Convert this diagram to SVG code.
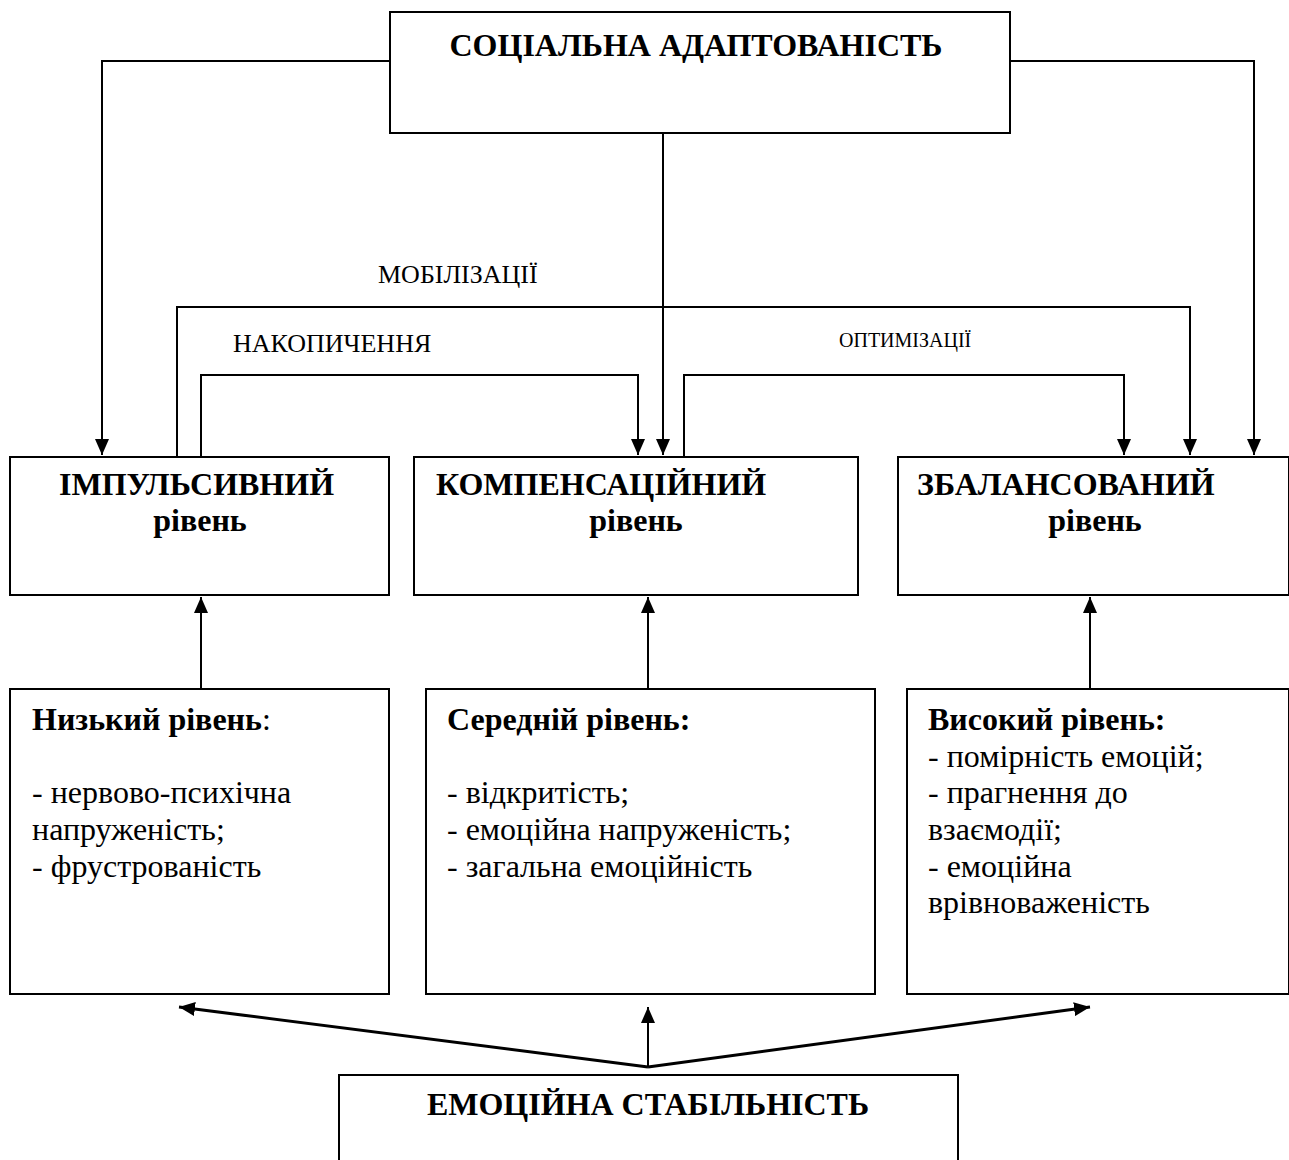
<svg xmlns="http://www.w3.org/2000/svg" width="1289" height="1160" viewBox="0 0 1289 1160">
  <style>
    .box { fill: #fff; stroke: #000; stroke-width: 2; }
    .wire { fill: none; stroke: #000; stroke-width: 2; }
    .thick { fill: none; stroke: #000; stroke-width: 3; }
    text { font-family: "Liberation Serif", "Times New Roman", serif; fill: #000; }
    .head { font-size: 32px; font-weight: bold; }
    .body { font-size: 32px; }
    .lbl { font-size: 26px; }
    .lbl-sm { font-size: 20px; }
  </style>
  <defs>
    <marker id="arrow" markerUnits="userSpaceOnUse" markerWidth="16" markerHeight="14" refX="16" refY="7" orient="auto">
      <path d="M0,0 L16,7 L0,14 Z" fill="#000"/>
    </marker>
  </defs>

  <rect width="1289" height="1160" fill="#fff"/>

  <!-- connectors -->
  <g id="connectors">
    <!-- from social adaptivity to the three levels -->
    <polyline class="wire" points="390,61 102,61 102,455" marker-end="url(#arrow)"/>
    <polyline class="wire" points="663,133 663,455" marker-end="url(#arrow)"/>
    <polyline class="wire" points="1010,61 1254,61 1254,455" marker-end="url(#arrow)"/>
    <!-- mobilization -->
    <polyline class="wire" points="177,457 177,307 1190,307 1190,455" marker-end="url(#arrow)"/>
    <!-- accumulation -->
    <polyline class="wire" points="201,457 201,375 638,375 638,455" marker-end="url(#arrow)"/>
    <!-- optimization -->
    <polyline class="wire" points="684,457 684,375 1124,375 1124,455" marker-end="url(#arrow)"/>
    <!-- emotional levels up to behaviour levels -->
    <line class="wire" x1="201" y1="689" x2="201" y2="597" marker-end="url(#arrow)"/>
    <line class="wire" x1="648" y1="689" x2="648" y2="597" marker-end="url(#arrow)"/>
    <line class="wire" x1="1090" y1="689" x2="1090" y2="597" marker-end="url(#arrow)"/>
    <!-- emotional stability fan-out -->
    <line class="thick" x1="648" y1="1067" x2="179" y2="1007" marker-end="url(#arrow)"/>
    <line class="thick" x1="648" y1="1067" x2="1090" y2="1007" marker-end="url(#arrow)"/>
    <line class="wire" x1="648" y1="1067" x2="648" y2="1007" marker-end="url(#arrow)"/>
    <!-- link labels -->
    <text class="lbl" x="378" y="283">МОБІЛІЗАЦІЇ</text>
    <text class="lbl" x="233" y="352">НАКОПИЧЕННЯ</text>
    <text class="lbl-sm" x="839" y="347">ОПТИМІЗАЦІЇ</text>
  </g>

  <g id="social">
    <rect class="box" x="390" y="12" width="620" height="121"/>
    <text class="head" x="696" y="56" text-anchor="middle">СОЦІАЛЬНА АДАПТОВАНІСТЬ</text>
  </g>

  <g id="impulsive">
    <rect class="box" x="10" y="457" width="379" height="138"/>
    <text class="head" x="59" y="495">ІМПУЛЬСИВНИЙ</text>
    <text class="head" x="200" y="531" text-anchor="middle">рівень</text>
  </g>

  <g id="compensatory">
    <rect class="box" x="414" y="457" width="444" height="138"/>
    <text class="head" x="436" y="495">КОМПЕНСАЦІЙНИЙ</text>
    <text class="head" x="636" y="531" text-anchor="middle">рівень</text>
  </g>

  <g id="balanced">
    <rect class="box" x="898" y="457" width="391" height="138"/>
    <text class="head" x="917" y="495">ЗБАЛАНСОВАНИЙ</text>
    <text class="head" x="1095" y="531" text-anchor="middle">рівень</text>
  </g>

  <g id="low">
    <rect class="box" x="10" y="689" width="379" height="305"/>
    <text class="body" x="32" y="730"><tspan font-weight="bold">Низький рівень</tspan>:</text>
    <text class="body" x="32" y="803">- нервово-психічна</text>
    <text class="body" x="32" y="840">напруженість;</text>
    <text class="body" x="32" y="877">- фрустрованість</text>
  </g>

  <g id="medium">
    <rect class="box" x="426" y="689" width="449" height="305"/>
    <text class="head" x="447" y="730">Середній рівень:</text>
    <text class="body" x="447" y="803">- відкритість;</text>
    <text class="body" x="447" y="840">- емоційна напруженість;</text>
    <text class="body" x="447" y="877">- загальна емоційність</text>
  </g>

  <g id="high">
    <rect class="box" x="907" y="689" width="382" height="305"/>
    <text class="head" x="928" y="730">Високий рівень:</text>
    <text class="body" x="928" y="767">- помірність емоцій;</text>
    <text class="body" x="928" y="803">- прагнення до</text>
    <text class="body" x="928" y="840">взаємодії;</text>
    <text class="body" x="928" y="877">- емоційна</text>
    <text class="body" x="928" y="913">врівноваженість</text>
  </g>

  <g id="stability">
    <rect class="box" x="339" y="1075" width="619" height="100"/>
    <text class="head" x="648" y="1115" text-anchor="middle">ЕМОЦІЙНА СТАБІЛЬНІСТЬ</text>
  </g>
</svg>
